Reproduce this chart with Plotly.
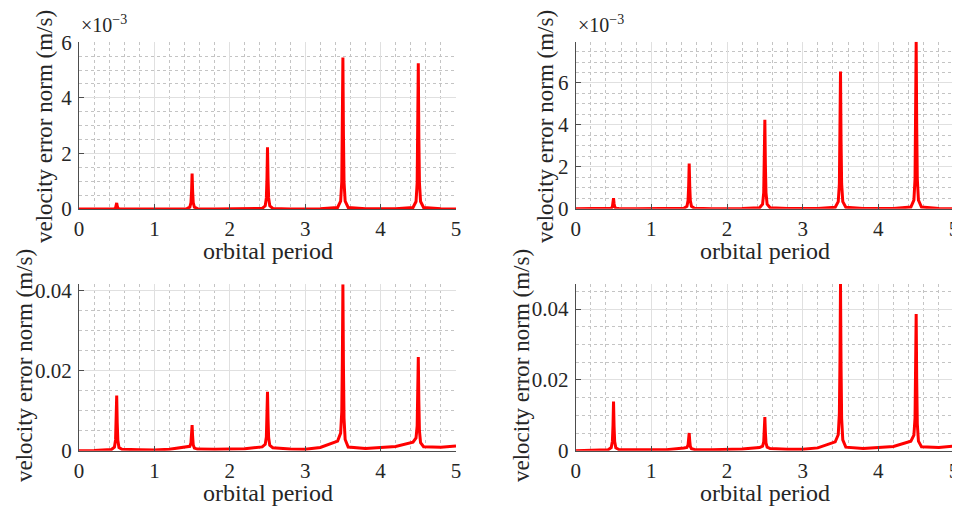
import numpy as np
import plotly.graph_objects as go

# ---- data (orbital period, velocity error norm) ----
orbit_x = [0.0, 0.2, 0.43, 0.47, 0.485, 0.493, 0.5, 0.507, 0.515, 0.53, 0.57, 0.8,
           1.0, 1.2, 1.43, 1.47, 1.485, 1.493, 1.5, 1.507, 1.515, 1.53, 1.57, 1.8,
           2.0, 2.2, 2.43, 2.47, 2.485, 2.493, 2.5, 2.507, 2.515, 2.53, 2.57, 2.8,
           3.0, 3.2, 3.43, 3.47, 3.485, 3.493, 3.5, 3.507, 3.515, 3.53, 3.57, 3.8,
           4.0, 4.2, 4.43, 4.47, 4.485, 4.493, 4.5, 4.507, 4.515, 4.53, 4.57, 4.8,
           5.0]

# values in units of 1e-3 m/s
err_top_left_milli = [0.0, 0.0, 0.002, 0.011, 0.04, 0.11, 0.22, 0.11, 0.04, 0.011, 0.002, 0.0,
                      0.0, 0.001, 0.013, 0.067, 0.23, 0.64, 1.28, 0.64, 0.23, 0.067, 0.013, 0.001,
                      0.001, 0.002, 0.022, 0.115, 0.40, 1.11, 2.22, 1.11, 0.40, 0.115, 0.022, 0.002,
                      0.002, 0.005, 0.055, 0.28, 0.98, 2.72, 5.45, 2.72, 0.98, 0.28, 0.055, 0.005,
                      0.004, 0.006, 0.053, 0.27, 0.95, 2.62, 5.25, 2.62, 0.95, 0.27, 0.053, 0.006,
                      0.002]
err_top_right_milli = [0.0, 0.001, 0.005, 0.026, 0.09, 0.25, 0.5, 0.25, 0.09, 0.026, 0.005, 0.001,
                       0.001, 0.002, 0.022, 0.11, 0.39, 1.08, 2.15, 1.08, 0.39, 0.11, 0.022, 0.002,
                       0.001, 0.004, 0.043, 0.22, 0.77, 2.12, 4.25, 2.12, 0.77, 0.22, 0.043, 0.004,
                       0.002, 0.007, 0.066, 0.34, 1.18, 3.28, 6.55, 3.28, 1.18, 0.34, 0.066, 0.007,
                       0.003, 0.008, 0.08, 0.41, 1.43, 3.98, 7.97, 3.98, 1.43, 0.41, 0.08, 0.008,
                       0.003]
err_bottom_left_milli = [0.0, 0.05, 0.3, 0.9, 2.7, 7.1, 13.8, 6.9, 2.6, 0.8, 0.35, 0.25,
                         0.2, 0.35, 0.85, 1.1, 1.95, 3.9, 6.4, 3.5, 1.45, 0.65, 0.4, 0.35,
                         0.35, 0.5, 0.95, 1.6, 3.4, 8.1, 14.7, 7.95, 3.25, 1.35, 0.75, 0.4,
                         0.35, 0.8, 2.4, 4.4, 9.7, 23.0, 41.6, 21.4, 8.1, 2.8, 0.9, 0.55,
                         0.75, 1.05, 2.15, 3.2, 6.2, 13.7, 23.4, 12.5, 5.0, 2.0, 1.0, 0.85,
                         1.2]
err_bottom_right_milli = [0.0, 0.05, 0.3, 0.9, 2.7, 7.1, 13.9, 7.0, 2.6, 0.8, 0.35, 0.25,
                          0.2, 0.3, 0.75, 0.95, 1.6, 3.2, 5.0, 2.8, 1.2, 0.55, 0.35, 0.3,
                          0.3, 0.45, 0.9, 1.3, 2.5, 5.55, 9.5, 5.25, 2.2, 1.0, 0.6, 0.4,
                          0.4, 0.8, 2.5, 4.5, 10.6, 25.6, 47.1, 24.1, 9.1, 3.05, 1.0, 0.6,
                          0.85, 1.2, 2.7, 4.4, 9.3, 21.7, 38.6, 20.0, 7.6, 2.7, 1.1, 0.9,
                          1.3]

x_ticks = [0, 1, 2, 3, 4, 5]
top_left_yticks = [0, 2, 4, 6]          # x 1e-3
top_right_yticks = [0, 2, 4, 6]         # x 1e-3
bottom_yticks = [0, 0.02, 0.04]
bottom_yticklabels = ["0", "0.02", "0.04"]

x_title = "orbital period"
y_title = "velocity error norm (m/s)"
exp_label = "×10<sup>−3</sup>"

# ---- style ----
OFF = 8                     # page body margin in the browser
W, H = 960 - OFF, 510 - OFF
FONT = "Liberation Serif"
TXT = "#262626"
RED = "#ff0000"

def px_x(p):
    return (p - OFF) / W

def px_y(p):
    return 1 - (p - OFF) / H

panels = [
    (err_top_left_milli, 1.0, (79, 456), (42.3, 209), 6.0,
     top_left_yticks, [str(v) for v in top_left_yticks], 0.5),
    (err_top_right_milli, 1.0, (575.7, 954), (41.7, 208.7), 7.97,
     top_right_yticks, [str(v) for v in top_right_yticks], 0.5),
    (err_bottom_left_milli, 1e-3, (79, 456), (284.3, 450.7), 0.0416,
     bottom_yticks, bottom_yticklabels, 0.005),
    (err_bottom_right_milli, 1e-3, (575.7, 954), (284.0, 450.7), 0.0471,
     bottom_yticks, bottom_yticklabels, 0.005),
]

fig = go.Figure()
layout = dict(
    width=W, height=H,
    margin=dict(l=0, r=0, t=0, b=0, autoexpand=False),
    paper_bgcolor="white", plot_bgcolor="white",
    showlegend=False,
    font=dict(family=FONT, size=20, color=TXT),
)

annotations = []
for i, (vals, scale, xd, yd, ymax, ytv, ytt, ymin_dt) in enumerate(panels):
    n = "" if i == 0 else str(i + 1)
    y_vals = np.array(vals) * scale
    fig.add_trace(go.Scatter(
        x=orbit_x, y=y_vals, mode="lines",
        line=dict(color=RED, width=3),
        xaxis="x" + n, yaxis="y" + n, hoverinfo="skip",
    ))
    common = dict(
        showline=True, linecolor="#4d4d4d", linewidth=1,
        ticks="inside", ticklen=5, tickcolor="#4d4d4d", tickwidth=1,
        showgrid=True, gridcolor="#e0e0e0", gridwidth=1,
        zeroline=False, mirror=False, automargin=False,
        tickfont=dict(family=FONT, size=21, color=TXT),
    )
    layout["xaxis" + n] = dict(
        common,
        domain=[px_x(xd[0]), px_x(xd[1])], range=[0, 5],
        tickvals=x_ticks, ticktext=[str(v) for v in x_ticks],
        anchor="y" + n,
        minor=dict(dtick=0.2, tick0=0, showgrid=True, gridcolor="#c4c4c4",
                   griddash="dot", gridwidth=1, ticks=""),
        ticklabelstandoff=1,
    )
    layout["yaxis" + n] = dict(
        common,
        domain=[px_y(yd[1]), px_y(yd[0])], range=[0, ymax],
        tickvals=ytv, ticktext=ytt,
        anchor="x" + n,
        minor=dict(dtick=ymin_dt, tick0=0, showgrid=True, gridcolor="#c4c4c4",
                   griddash="dot", gridwidth=1, ticks=""),
        ticklabelstandoff=2,
    )
    annotations.append(dict(
        text=x_title, xref="paper", yref="paper",
        x=px_x((xd[0] + xd[1]) / 2), y=px_y(yd[1] + 42),
        xanchor="center", yanchor="middle", showarrow=False,
        font=dict(family=FONT, size=24, color=TXT),
    ))

ytitle_pos = [(44, 127), (545, 127), (24, 366), (521, 366)]
for (cx, cy) in ytitle_pos:
    annotations.append(dict(
        text=y_title, xref="paper", yref="paper",
        x=px_x(cx), y=px_y(cy), xanchor="center", yanchor="middle",
        textangle=-90, showarrow=False,
        font=dict(family=FONT, size=23, color=TXT),
    ))

for ex in (79, 576):
    annotations.append(dict(
        text=exp_label, xref="paper", yref="paper",
        x=px_x(ex), y=px_y(38), xanchor="left", yanchor="bottom",
        showarrow=False, font=dict(family=FONT, size=20, color=TXT),
    ))

layout["annotations"] = annotations
fig.update_layout(**layout)
fig.write_html("out.html")
